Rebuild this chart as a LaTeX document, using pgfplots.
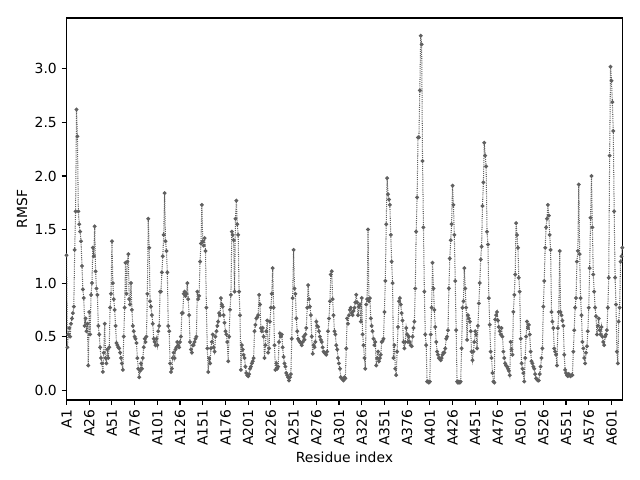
\documentclass[border=0pt]{standalone}
\usepackage{fontspec}
\setmainfont{DejaVu Sans}
\usepackage{pgfplots}
\usepackage{pgfplotstable}
\pgfplotsset{compat=1.18}
\definecolor{linegray}{RGB}{96,96,96}
\pgfplotstableread[row sep=\\]{
rmsf\\
1.26\\0.40\\0.52\\0.58\\0.50\\0.62\\0.67\\0.72\\0.78\\1.31\\
1.67\\2.62\\2.37\\1.67\\1.55\\1.48\\1.39\\1.16\\0.94\\0.86\\
0.60\\0.67\\0.55\\0.62\\0.23\\0.73\\0.52\\0.89\\1.00\\1.33\\
1.25\\1.53\\1.11\\0.95\\0.89\\0.60\\0.52\\0.40\\0.30\\0.25\\
0.17\\0.35\\0.62\\0.30\\0.25\\0.38\\0.30\\0.40\\0.77\\0.90\\
1.39\\1.00\\0.85\\0.75\\0.60\\0.44\\0.42\\0.40\\0.39\\0.35\\
0.30\\0.25\\0.19\\0.50\\0.77\\1.19\\0.90\\1.20\\1.27\\0.85\\
0.80\\1.00\\0.75\\0.60\\0.55\\0.50\\0.48\\0.44\\0.30\\0.20\\
0.12\\0.18\\0.25\\0.20\\0.30\\0.40\\0.48\\0.45\\0.50\\0.90\\
1.60\\1.33\\0.83\\0.78\\0.70\\0.62\\0.48\\0.45\\0.42\\0.48\\
0.42\\0.55\\
0.60\\0.92\\0.92\\1.10\\1.25\\1.45\\1.84\\1.39\\1.30\\1.10\\
0.60\\0.55\\0.25\\0.17\\0.20\\0.30\\0.35\\0.30\\0.38\\0.40\\
0.45\\0.42\\0.40\\0.45\\0.50\\0.72\\0.72\\0.90\\0.92\\0.88\\
0.90\\1.00\\0.85\\0.70\\0.45\\0.38\\0.35\\0.42\\0.42\\0.45\\
0.48\\0.50\\0.92\\0.85\\0.88\\1.20\\1.37\\1.73\\1.39\\1.35\\
1.42\\1.30\\0.77\\0.39\\0.17\\0.30\\0.25\\0.39\\0.45\\0.52\\
0.40\\0.36\\0.50\\0.55\\0.60\\0.64\\0.72\\0.70\\0.86\\0.80\\
0.78\\0.70\\0.63\\0.55\\0.52\\0.45\\0.27\\0.50\\0.75\\0.89\\
1.48\\1.45\\1.40\\0.92\\1.60\\1.77\\1.55\\1.45\\0.92\\0.70\\
0.19\\0.42\\0.38\\0.33\\0.30\\0.22\\0.16\\0.14\\0.13\\0.15\\
0.20\\0.22\\0.25\\0.27\\0.30\\0.55\\0.61\\0.67\\0.68\\0.70\\
0.89\\0.80\\0.58\\0.55\\0.58\\0.50\\0.30\\0.42\\0.55\\0.65\\
0.35\\0.39\\0.64\\0.77\\0.90\\1.14\\0.77\\0.42\\0.19\\0.25\\
0.20\\0.22\\0.45\\0.53\\0.50\\0.52\\0.40\\0.31\\0.25\\0.22\\
0.16\\0.14\\0.12\\0.09\\0.12\\0.15\\0.48\\0.86\\1.31\\0.95\\
0.90\\0.67\\0.55\\0.48\\0.46\\0.45\\0.44\\0.42\\0.45\\0.50\\
0.47\\0.52\\0.58\\0.77\\0.98\\0.85\\0.78\\0.70\\0.50\\0.34\\
0.42\\0.40\\0.45\\0.64\\0.60\\0.59\\0.55\\0.50\\0.47\\0.45\\
0.40\\0.36\\0.35\\0.34\\0.33\\0.36\\0.55\\0.67\\0.83\\1.08\\
1.11\\0.85\\0.70\\0.55\\0.52\\0.42\\0.38\\0.30\\0.25\\0.20\\
0.12\\0.11\\0.10\\0.09\\0.12\\0.11\\0.39\\0.67\\0.62\\0.70\\
0.75\\
0.77\\0.72\\0.70\\0.74\\0.77\\0.82\\0.89\\0.82\\0.70\\0.78\\
0.80\\0.64\\0.86\\0.52\\0.42\\0.30\\0.20\\0.80\\0.85\\1.50\\
0.83\\0.86\\0.67\\0.60\\0.55\\0.48\\0.42\\0.45\\0.23\\0.30\\
0.36\\0.27\\0.30\\0.33\\0.45\\0.46\\0.48\\0.73\\1.02\\1.55\\
1.98\\1.83\\1.78\\1.73\\1.45\\1.20\\1.00\\0.30\\0.42\\0.20\\
0.14\\0.36\\0.59\\0.83\\0.86\\0.80\\0.72\\0.65\\0.45\\0.39\\
0.45\\0.58\\0.52\\0.45\\0.50\\0.45\\0.42\\0.41\\0.50\\0.58\\
0.64\\0.95\\1.48\\1.80\\2.36\\2.36\\2.80\\3.31\\3.23\\2.14\\
1.52\\0.92\\0.52\\0.42\\0.08\\0.08\\0.07\\0.08\\0.52\\0.77\\
1.19\\0.95\\0.75\\0.59\\0.45\\0.36\\0.33\\0.30\\0.30\\0.28\\
0.30\\0.33\\0.35\\0.35\\
0.39\\0.48\\0.50\\0.56\\0.95\\1.23\\1.40\\1.55\\1.91\\1.73\\
1.45\\1.02\\0.56\\0.08\\0.07\\0.08\\0.07\\0.08\\0.39\\0.77\\
0.83\\1.14\\0.95\\0.77\\0.47\\0.70\\0.67\\0.64\\0.55\\0.36\\
0.28\\0.36\\0.45\\0.55\\0.52\\0.39\\0.60\\0.81\\1.00\\1.22\\
1.34\\1.72\\1.94\\2.31\\2.19\\2.09\\1.48\\1.36\\0.86\\0.61\\
0.36\\0.30\\0.16\\0.08\\0.07\\0.66\\0.70\\0.73\\0.65\\0.59\\
0.55\\0.52\\0.58\\0.50\\0.36\\0.30\\0.25\\0.23\\0.22\\0.20\\
0.18\\0.14\\0.45\\0.38\\0.33\\0.73\\0.89\\1.08\\1.56\\1.45\\
1.33\\1.05\\0.92\\0.48\\0.25\\0.20\\0.16\\0.08\\0.30\\0.50\\
0.64\\0.58\\0.61\\0.52\\0.36\\0.27\\0.25\\0.22\\0.20\\0.15\\
0.11\\0.10\\0.09\\0.09\\
0.15\\0.22\\0.30\\0.39\\0.78\\1.02\\1.33\\1.52\\1.60\\
1.73\\1.63\\1.45\\1.31\\0.73\\0.64\\0.58\\0.39\\0.36\\0.33\\
0.23\\0.58\\0.73\\1.30\\0.73\\0.70\\0.65\\0.60\\0.33\\0.19\\
0.16\\0.14\\0.13\\0.15\\0.14\\0.13\\0.14\\0.14\\0.36\\0.56\\
0.77\\0.86\\1.20\\1.30\\1.92\\1.27\\0.86\\0.70\\0.45\\0.39\\
0.30\\0.25\\0.35\\0.41\\0.55\\0.77\\1.14\\1.61\\2.00\\1.52\\
1.08\\0.92\\0.77\\0.69\\0.52\\0.60\\0.67\\0.56\\0.52\\0.59\\
0.50\\0.45\\0.42\\0.50\\0.52\\0.56\\0.77\\1.05\\2.19\\3.02\\
2.89\\2.69\\2.42\\1.67\\1.05\\0.80\\0.36\\0.25\\0.64\\0.77\\
1.20\\1.25\\1.33\\
}\rmsfdata
\begin{document}
\begin{tikzpicture}
\useasboundingbox (-47.9pt,-57.6pt) rectangle (412.9pt,288pt);
\begin{axis}[
  at={(0pt,0pt)}, anchor=south west,
  scale only axis, width=400.2pt, height=275pt,
  xmin=0, xmax=612, ymin=-0.092, ymax=3.475,
  xtick={0,25,...,600},
  xticklabels={A1,A26,A51,A76,A101,A126,A151,A176,A201,A226,A251,A276,A301,A326,A351,A376,A401,A426,A451,A476,A501,A526,A551,A576,A601},
  ytick={0,0.5,1,1.5,2,2.5,3},
  /pgf/number format/assume math mode=true,
  yticklabel style={/pgf/number format/.cd, fixed, fixed zerofill, precision=1},
  xticklabel style={rotate=90, anchor=east},
  tick label style={font=\fontsize{10}{12}\selectfont},
  label style={font=\fontsize{10}{12}\selectfont},
  xlabel={Residue index}, ylabel={RMSF},
  xlabel style={at={(axis description cs:0.5,-0.149)}, anchor=center},
  ylabel style={at={(axis description cs:-0.080,0.5)}, anchor=center},
  axis line style={line width=0.8pt},
  tick style={black, line width=0.8pt},
  major tick length=3.5pt, tick align=outside,
  xtick pos=lower, ytick pos=left,
]
\addplot[color=linegray, line width=0.75pt, dash pattern=on 0.75pt off 0.8pt,
  mark=*, mark size=1.0pt, mark options={solid, fill=linegray, draw=none}]
  table[x expr=\coordindex, y=rmsf]{\rmsfdata};
\end{axis}
\end{tikzpicture}
\end{document}
